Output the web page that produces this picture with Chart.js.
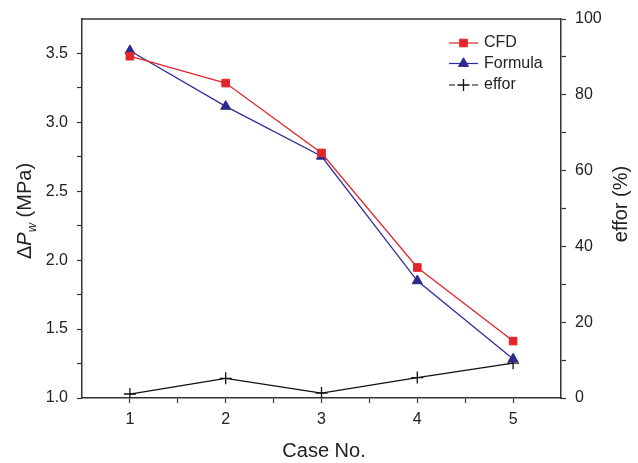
<!DOCTYPE html>
<html>
<head>
<meta charset="utf-8">
<script src="https://cdn.jsdelivr.net/npm/chart.js@4/dist/chart.umd.min.js"></script>
<style>
  html, body { margin: 0; padding: 0; background: #fff; }
  #wrap { width: 638px; height: 463px; }
</style>
</head>
<body>
<div id="wrap"><canvas id="chart" width="638" height="463"></canvas></div>
<script>
// Data
const caseNo = [1, 2, 3, 4, 5];
const cfdValues = [3.48, 3.285, 2.778, 1.947, 1.413];      // MPa
const formulaValues = [3.52, 3.116, 2.754, 1.85, 1.283];   // MPa
const efforValues = [1.05, 5.2, 1.3, 5.4, 9.2];            // %

const axisColor = '#333333';
const textColor = '#222222';
const fontFamily = 'Arial, "Liberation Sans", Helvetica, sans-serif';

function toPoints(values) {
    return caseNo.map((c, i) => ({ x: c, y: values[i] }));
}

// Draw top frame, axis titles and legend
const decorPlugin = {
    id: 'decor',
    afterDraw(chart) {
        const ctx = chart.ctx;
        const area = chart.chartArea;
        ctx.save();

        // top border
        ctx.strokeStyle = axisColor;
        ctx.lineWidth = 1.5;
        ctx.beginPath();
        ctx.moveTo(area.left, area.top);
        ctx.lineTo(area.right, area.top);
        ctx.stroke();

        ctx.fillStyle = textColor;

        // x title
        ctx.font = '20px ' + fontFamily;
        ctx.textAlign = 'center';
        ctx.textBaseline = 'middle';
        ctx.fillText('Case No.', 324, 451);

        // left title: ΔPw (MPa) with italic P and subscript w
        ctx.save();
        ctx.translate(24, 211);
        ctx.rotate(-Math.PI / 2);
        const parts = [
            { t: 'Δ', f: '20px ' + fontFamily, dy: 0 },
            { t: 'P', f: 'italic 20px ' + fontFamily, dy: 0 },
            { t: 'w', f: 'italic 13px ' + fontFamily, dy: 5 },
            { t: ' (MPa)', f: '20px ' + fontFamily, dy: 0 }
        ];
        let total = 0;
        parts.forEach(p => { ctx.font = p.f; total += ctx.measureText(p.t).width; });
        let px = -total / 2;
        ctx.textAlign = 'left';
        ctx.textBaseline = 'alphabetic';
        parts.forEach(p => {
            ctx.font = p.f;
            ctx.fillText(p.t, px, 7 + p.dy);
            px += ctx.measureText(p.t).width;
        });
        ctx.restore();

        // right title
        ctx.save();
        ctx.translate(621, 204);
        ctx.rotate(-Math.PI / 2);
        ctx.font = '20px ' + fontFamily;
        ctx.textAlign = 'center';
        ctx.textBaseline = 'middle';
        ctx.fillText('effor (%)', 0, 0);
        ctx.restore();

        // legend
        const rows = [43, 63.5, 85];
        const x0 = 449, x1 = 478, xm = 463.5;
        chart.data.datasets.forEach((ds, i) => {
            const y = rows[i];
            ctx.strokeStyle = ds.borderColor;
            ctx.lineWidth = 1.2;
            ctx.beginPath();
            if (ds.pointStyle === 'cross') {
                ctx.moveTo(x0, y); ctx.lineTo(x0 + 6, y);
                ctx.moveTo(x1 - 6, y); ctx.lineTo(x1, y);
            } else {
                ctx.moveTo(x0, y); ctx.lineTo(x1, y);
            }
            ctx.stroke();
            ctx.fillStyle = ds.pointBackgroundColor;
            ctx.strokeStyle = ds.pointBorderColor;
            ctx.lineWidth = ds.pointBorderWidth;
            Chart.helpers.drawPoint(ctx, {
                pointStyle: ds.pointStyle,
                radius: ds.pointRadius,
                borderWidth: ds.pointBorderWidth,
                rotation: 0
            }, xm, y);
            ctx.fillStyle = textColor;
            ctx.font = '16px ' + fontFamily;
            ctx.textAlign = 'left';
            ctx.textBaseline = 'middle';
            ctx.fillText(ds.label, 484, y);
        });

        ctx.restore();
    }
};

const axisGrid = {
    drawOnChartArea: false,
    drawTicks: true,
    tickLength: 5,
    tickColor: axisColor,
    tickWidth: 1.2
};

new Chart(document.getElementById('chart').getContext('2d'), {
    type: 'line',
    data: {
        datasets: [{
            label: 'CFD',
            data: toPoints(cfdValues),
            yAxisID: 'y',
            borderColor: '#e0262b',
            borderWidth: 1.3,
            pointStyle: 'rect',
            pointRadius: 5.4,
            pointBackgroundColor: '#e0262b',
            pointBorderColor: '#e0262b',
            pointBorderWidth: 1
        }, {
            label: 'Formula',
            data: toPoints(formulaValues),
            yAxisID: 'y',
            borderColor: '#2e2e96',
            borderWidth: 1.3,
            pointStyle: 'triangle',
            pointRadius: 5.8,
            pointBackgroundColor: '#2a2a8c',
            pointBorderColor: '#2a2a8c',
            pointBorderWidth: 1
        }, {
            label: 'effor',
            data: toPoints(efforValues),
            yAxisID: 'y2',
            borderColor: '#111111',
            borderWidth: 1.3,
            pointStyle: 'cross',
            pointRadius: 6,
            pointBackgroundColor: '#111111',
            pointBorderColor: '#111111',
            pointBorderWidth: 1.3
        }]
    },
    options: {
        responsive: false,
        animation: false,
        layout: { padding: { top: 19, left: 0, right: 0, bottom: 0 } },
        plugins: {
            legend: { display: false },
            tooltip: { enabled: false }
        },
        scales: {
            x: {
                type: 'linear',
                position: 'bottom',
                min: 0.5,
                max: 5.5,
                afterFit: s => { s.height = 65; },
                afterBuildTicks: s => {
                    s.ticks = [1, 1.5, 2, 2.5, 3, 3.5, 4, 4.5, 5].map(v => ({ value: v }));
                },
                ticks: {
                    padding: 7,
                    color: textColor,
                    font: { size: 16, family: fontFamily },
                    callback: v => Number.isInteger(v) ? String(v) : ''
                },
                grid: axisGrid,
                border: { color: axisColor, width: 1.5 }
            },
            y: {
                position: 'left',
                min: 1.0,
                max: 3.75,
                afterFit: s => { s.width = 82; },
                afterBuildTicks: s => {
                    const vals = [];
                    for (let v = 1.0; v <= 3.51; v += 0.25) vals.push({ value: Math.round(v * 100) / 100 });
                    s.ticks = vals;
                },
                ticks: {
                    padding: 9,
                    color: textColor,
                    font: { size: 16, family: fontFamily },
                    callback: v => (Math.round(v * 100) % 50 === 0) ? v.toFixed(1) : ''
                },
                grid: axisGrid,
                border: { color: axisColor, width: 1.5 }
            },
            y2: {
                position: 'right',
                min: 0,
                max: 100,
                afterFit: s => { s.width = 77; },
                afterBuildTicks: s => {
                    const vals = [];
                    for (let v = 0; v <= 100; v += 10) vals.push({ value: v });
                    s.ticks = vals;
                },
                ticks: {
                    padding: 9,
                    color: textColor,
                    font: { size: 16, family: fontFamily },
                    callback: v => (v % 20 === 0) ? String(v) : ''
                },
                grid: axisGrid,
                border: { color: axisColor, width: 1.5 }
            }
        }
    },
    plugins: [decorPlugin]
});
</script>
</body>
</html>
